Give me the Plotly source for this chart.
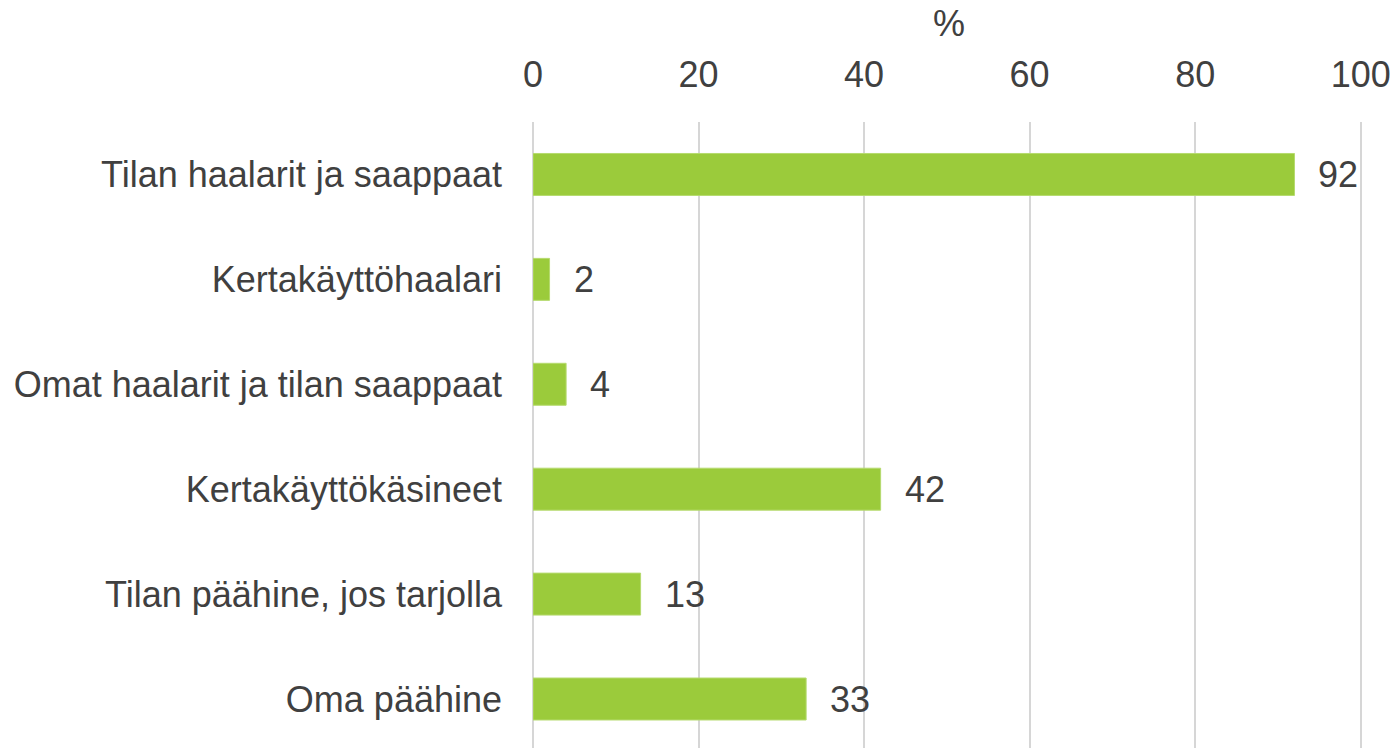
import plotly.graph_objects as go

categories = [
    "Tilan haalarit ja saappaat",
    "Kertakäyttöhaalari",
    "Omat haalarit ja tilan saappaat",
    "Kertakäyttökäsineet",
    "Tilan päähine, jos tarjolla",
    "Oma päähine",
]
values = [92, 2, 4, 42, 13, 33]
tick_vals = [0, 20, 40, 60, 80, 100]
axis_title = "%"

font_family = "Liberation Sans, Arial, sans-serif"
text_color = "#404040"
bar_color = "#9BCB3B"
grid_color = "#D6D6D6"
fsize = 36

fig = go.Figure()
fig.add_trace(go.Bar(
    y=categories,
    x=values,
    orientation="h",
    width=0.4,
    marker=dict(color=bar_color, line=dict(color="#B5DA6E", width=1)),
    hoverinfo="x+y",
))

annotations = []
for c, v in zip(categories, values):
    annotations.append(dict(
        x=v, y=c, xref="x", yref="y", text=str(v), showarrow=False,
        xanchor="left", yanchor="middle", xshift=22,
        font=dict(family=font_family, size=fsize, color=text_color),
    ))
annotations.append(dict(
    x=0.5, y=1, xref="paper", yref="paper", text=axis_title, showarrow=False,
    xanchor="center", yanchor="bottom", yshift=76,
    font=dict(family=font_family, size=fsize, color=text_color),
))

fig.update_layout(
    width=1398,
    height=748,
    margin=dict(l=533, r=34, t=122, b=0),
    paper_bgcolor="white",
    plot_bgcolor="white",
    showlegend=False,
    annotations=annotations,
    font=dict(family=font_family, size=fsize, color=text_color),
    xaxis=dict(
        side="top",
        range=[0, 100.4],
        tickvals=tick_vals,
        ticktext=[str(t) for t in tick_vals],
        showgrid=True,
        gridcolor=grid_color,
        gridwidth=2,
        zeroline=True,
        zerolinecolor=grid_color,
        zerolinewidth=2,
        showline=False,
        ticks="",
        ticklabelstandoff=27,
        tickfont=dict(family=font_family, size=fsize, color=text_color),
        fixedrange=True,
    ),
    yaxis=dict(
        type="category",
        categoryorder="array",
        categoryarray=categories,
        range=[5.467, -0.5],
        showgrid=False,
        zeroline=False,
        showline=False,
        ticks="",
        ticklabelstandoff=30,
        tickfont=dict(family=font_family, size=fsize, color=text_color),
        fixedrange=True,
    ),
)

fig.write_html(
    "out.html",
    config={"displayModeBar": False},
    post_script="document.body.style.margin='0';document.body.style.overflow='hidden';",
)
